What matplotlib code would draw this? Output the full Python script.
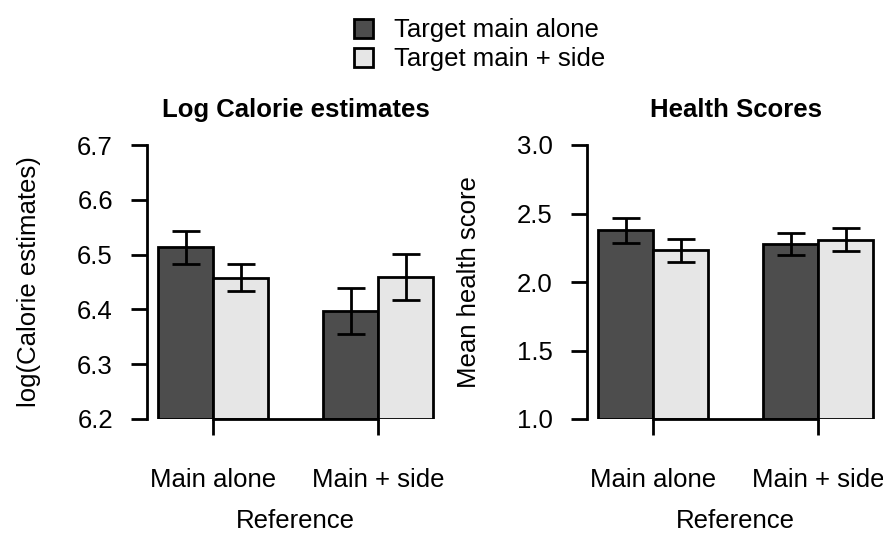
import numpy as np
import matplotlib
matplotlib.use("Agg")
import matplotlib.pyplot as plt

plt.rcParams['font.family'] = ['Liberation Sans', 'DejaVu Sans']

references = ["Main alone", "Main + side"]
targets = ["Target main alone", "Target main + side"]

# rows: reference, cols: target
cal_mean = np.array([[6.513, 6.458], [6.397, 6.460]])
cal_se = np.array([[0.030, 0.025], [0.042, 0.042]])
health_mean = np.array([[2.378, 2.230], [2.278, 2.308]])
health_se = np.array([[0.090, 0.083], [0.082, 0.083]])

colors = ["#4d4d4d", "#e6e6e6"]
W, H = 883, 533
fig = plt.figure(figsize=(W / 100, H / 100), dpi=100)

fs = 18.5
lw = 2.0


def panel(left_px, mean, se, ylim, yticks, ylabel, title):
    ax = fig.add_axes([left_px / W, (H - 419) / H, 297 / W, 274 / H])
    centers = 2 + 3 * np.arange(len(references))
    bars = []
    for j in range(len(targets)):
        x = centers + (j - 0.5)
        b = ax.bar(x, mean[:, j] - ylim[0], bottom=ylim[0], width=1.0,
                   color=colors[j], edgecolor="black", linewidth=lw,
                   label=targets[j])
        bars.append(b)
        ax.errorbar(x, mean[:, j], yerr=se[:, j], fmt="none", ecolor="black",
                    elinewidth=lw, capsize=10.4, capthick=lw)
    ax.set_xlim(0.8, 6.2)
    ax.set_ylim(*ylim)
    for s in ["top", "right"]:
        ax.spines[s].set_visible(False)
    ax.spines["left"].set_linewidth(lw)
    ax.spines["bottom"].set_linewidth(lw)
    ax.spines["left"].set_bounds(yticks[0], yticks[-1])
    ax.spines["bottom"].set_bounds(centers[0], centers[-1])
    ax.set_xticks(centers, references)
    ax.set_yticks(yticks, ["%.1f" % t for t in yticks])
    ax.tick_params(axis="both", length=11.5, width=lw, labelsize=fs)
    ax.tick_params(axis="y", pad=13)
    ax.tick_params(axis="x", pad=24)
    ax.set_xlabel("Reference", fontsize=fs, labelpad=12)
    ax.set_ylabel(ylabel, fontsize=fs, labelpad=26)
    ax.set_title(title, fontsize=fs, fontweight="bold", pad=20)
    return bars


bars = panel(147, cal_mean, cal_se, (6.2, 6.7), np.arange(6.2, 6.71, 0.1),
             "log(Calorie estimates)", "Log Calorie estimates")
panel(587, health_mean, health_se, (1.0, 3.0), np.arange(1.0, 3.01, 0.5),
      "Mean health score", "Health Scores")

fig.legend(handles=[bars[0], bars[1]], labels=targets, loc="upper left",
           bbox_to_anchor=(331 / W, 1 + 5 / H), frameon=False, fontsize=fs,
           handlelength=0.75, handleheight=0.75, handletextpad=0.8,
           labelspacing=0.2)

fig.savefig("out.png", dpi=100)
